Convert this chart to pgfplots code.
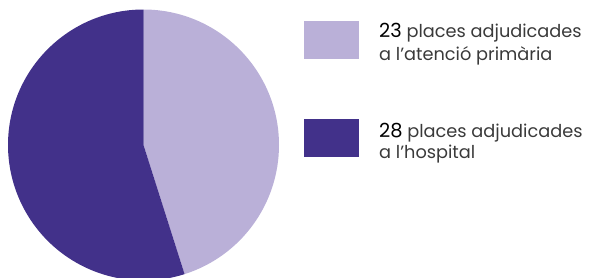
\documentclass[border=0pt]{standalone}
\usepackage{pgfplots}
\pgfplotsset{compat=1.18}
\usepackage{pgfplotstable}
\usepackage{fontspec}
\setmainfont{Poppins}
\definecolor{lightp}{HTML}{BAB0D8}
\definecolor{darkp}{HTML}{42318A}
\definecolor{txt}{HTML}{3A3A3A}
\pgfplotstableread{
label value
primaria 23
hospital 28
}\piedata
\pgfplotstablegetelem{0}{value}\of\piedata\let\va\pgfplotsretval
\pgfplotstablegetelem{1}{value}\of\piedata\let\vb\pgfplotsretval
\begin{document}
\begin{tikzpicture}
\useasboundingbox (0bp,0bp) rectangle (591bp,-278bp);
\pgfmathsetmacro{\tot}{\va+\vb}
\pgfmathsetmacro{\angA}{90-360*\va/\tot}
\begin{axis}[hide axis, scale only axis, width=271bp, height=271bp,
  xmin=-1, xmax=1, ymin=-1, ymax=1, at={(8bp,-280.5bp)}, anchor=south west, clip=false]
\fill[lightp] (axis cs:0,0) -- (axis cs:0,1) arc[start angle=90, end angle=\angA, radius=1] -- cycle;
\fill[darkp] (axis cs:0,0) -- (axis cs:0,1) arc[start angle=90, end angle=\angA+360, radius=1] -- cycle;
\end{axis}
\fill[lightp] (304bp,-21bp) rectangle (359bp,-59bp);
\fill[darkp] (304bp,-119bp) rectangle (359bp,-157bp);
\tikzset{lt/.style={anchor=base west, inner sep=0pt, font=\fontsize{17.8}{20}\selectfont, text=txt}}
\node[lt] at (379bp,-37bp) {{\fontsize{19.5}{20}\selectfont\color{black}23} places adjudicades};
\node[lt] at (379bp,-60bp) {a l’atenció primària};
\node[lt] at (379bp,-137bp) {{\fontsize{19.5}{20}\selectfont\color{black}28} places adjudicades};
\node[lt] at (379bp,-158bp) {a l’hospital};
\end{tikzpicture}
\end{document}
